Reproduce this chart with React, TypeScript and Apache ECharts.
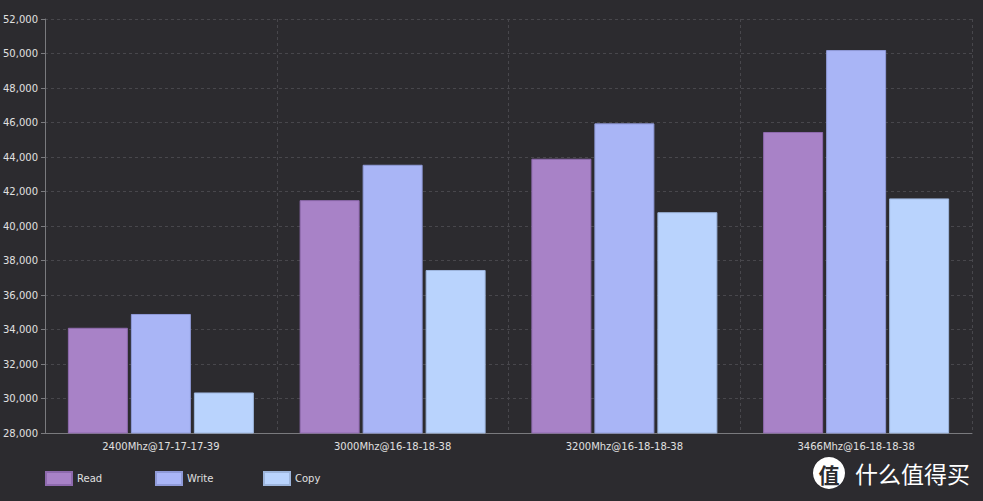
import React, { useEffect, useRef } from "react";
import * as echarts from "echarts";

const categories = [
  "2400Mhz@17-17-17-39",
  "3000Mhz@16-18-18-38",
  "3200Mhz@16-18-18-38",
  "3466Mhz@16-18-18-38",
];
const readValues = [34100, 41500, 43900, 45450];
const writeValues = [34900, 43550, 45950, 50200];
const copyValues = [30350, 37450, 40800, 41600];
const seriesNames = ["Read", "Write", "Copy"];
const seriesColors = ["#a882c7", "#a9b5f6", "#b9d3fd"];
const borderColors = ["#8e6aae", "#8f9ad8", "#9db5dc"];

export default function App() {
  const ref = useRef<HTMLDivElement>(null);
  useEffect(() => {
    if (!ref.current) return;
    const chart = echarts.init(ref.current, undefined, { renderer: "svg" });
    const font = "DejaVu Sans";
    const data = [readValues, writeValues, copyValues];
    const legendLefts = [45, 155, 263];
    chart.setOption({
      animation: false,
      backgroundColor: "#2c2b2f",
      textStyle: { fontFamily: font },
      grid: { left: 45, right: 11, top: 19, bottom: 68 },
      legend: seriesNames.map((n, i) => ({
        data: [n],
        left: legendLefts[i],
        top: 471,
        padding: 0,
        itemWidth: 26,
        itemHeight: 13,
        itemGap: 5,
        icon: "rect",
        textStyle: { color: "#e0e0e0", fontSize: 10, fontFamily: font },
        selectedMode: false,
      })),
      xAxis: {
        type: "category",
        data: categories,
        axisLine: { lineStyle: { color: "#7a7a7e", width: 1 } },
        axisTick: { alignWithLabel: true, length: 4, lineStyle: { color: "#7a7a7e" } },
        axisLabel: { color: "#e0e0e0", fontSize: 10, margin: 8, fontFamily: font },
        splitLine: { show: true, lineStyle: { color: "#48474c", type: [3, 3] } },
      },
      yAxis: {
        type: "value",
        min: 28000,
        max: 52000,
        interval: 2000,
        axisLine: { show: true, lineStyle: { color: "#7a7a7e" } },
        axisTick: { show: true, length: 4, lineStyle: { color: "#7a7a7e" } },
        axisLabel: {
          color: "#e0e0e0",
          fontSize: 10,
          margin: 7,
          fontFamily: font,
          formatter: (v: number) => v.toLocaleString("en-US"),
        },
        splitLine: { lineStyle: { color: "#48474c", type: [3, 3] } },
      },
      series: seriesNames.map((n, i) => ({
        name: n,
        type: "bar",
        data: data[i],
        barWidth: 60,
        barGap: "5%",
        itemStyle: { color: seriesColors[i], borderColor: borderColors[i], borderWidth: 1 },
      })),
      graphic: [
        { type: "circle", shape: { cx: 829, cy: 473, r: 16 }, style: { fill: "#ffffff" } },
        {
          type: "text",
          x: 829,
          y: 474,
          style: {
            text: "值",
            fill: "#2c2b2f",
            font: "bold 21px 'Noto Sans CJK SC'",
            align: "center",
            verticalAlign: "middle",
          },
        },
        {
          type: "text",
          x: 855,
          y: 473,
          style: {
            text: "什么值得买",
            fill: "#ffffff",
            font: "23px 'Noto Sans CJK SC'",
            verticalAlign: "middle",
          },
        },
      ],
    });
    return () => chart.dispose();
  }, []);
  return <div ref={ref} style={{ width: 983, height: 501, position: "absolute", left: 0, top: 0 }} />;
}
